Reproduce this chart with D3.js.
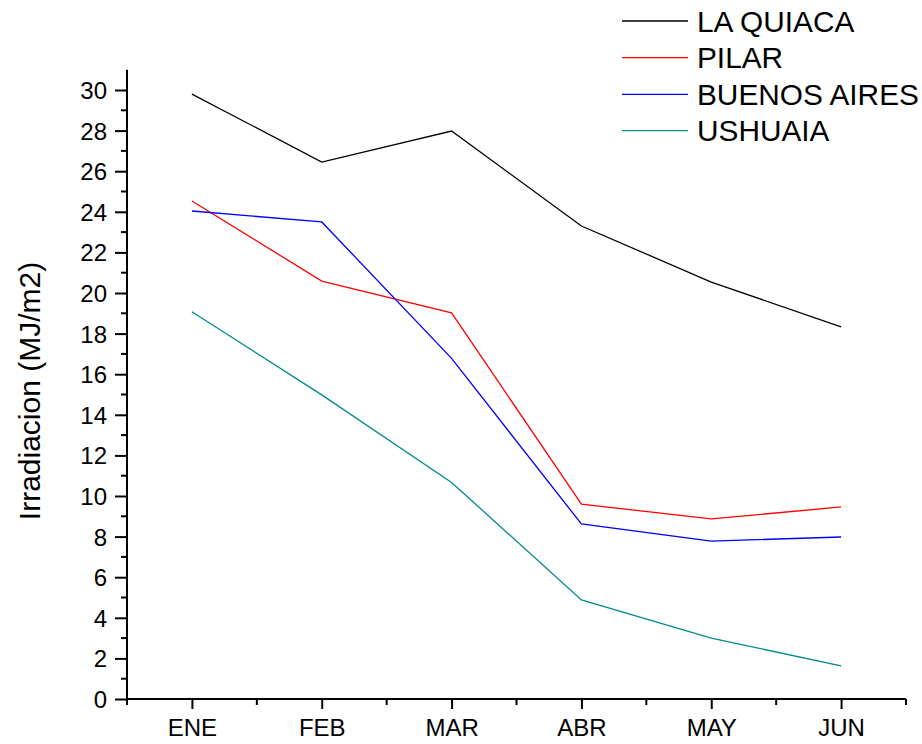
<!DOCTYPE html>
<html>
<head>
<meta charset="utf-8">
<script src="https://cdn.jsdelivr.net/npm/d3@7/dist/d3.min.js"></script>
<style>
html,body{margin:0;padding:0;background:#fff;}
svg{display:block;}
text{font-family:"Liberation Sans",Arial,sans-serif;fill:#000;}
</style>
</head>
<body>
<svg id="chart" width="922" height="744"></svg>
<script>
const months = ["ENE","FEB","MAR","ABR","MAY","JUN"];
const laQuiaca = [29.8, 26.45, 27.98, 23.3, 20.54, 18.33];
const pilar = [24.53, 20.59, 19.02, 9.6, 8.87, 9.46];
const buenosAires = [24.04, 23.5, 16.78, 8.62, 7.78, 7.98];
const ushuaia = [19.08, 14.98, 10.67, 4.88, 3.0, 1.63];
const seriesNames = ["LA QUIACA","PILAR","BUENOS AIRES","USHUAIA"];
const seriesColors = ["#000000","#ff0000","#0000ff","#008b8b"];
const yTicks = [0,2,4,6,8,10,12,14,16,18,20,22,24,26,28,30];

const svg = d3.select("#chart");
const x0 = 127, x1 = 906, yBottom = 699;
const x = d3.scaleLinear().domain([0.5, 6.5]).range([x0, x1]);
const y = d3.scaleLinear().domain([0, 30]).range([yBottom, 90]);
const yTop = y(31);

// Y axis
const yAxis = d3.axisLeft(y).tickValues(yTicks).tickSize(12).tickPadding(8).tickFormat(d3.format("d"));
const gy = svg.append("g").attr("transform", `translate(${x0},0)`).call(yAxis);
gy.select(".domain").remove();
gy.selectAll(".tick line").attr("stroke","#000").attr("stroke-width",2);
gy.selectAll(".tick text").style("font-size","24px").attr("dy","0.35em");
// minor y ticks
const yMinor = d3.range(1, 31, 2);
svg.append("g").selectAll("line").data(yMinor).join("line")
  .attr("x1", x0-6).attr("x2", x0).attr("y1", d=>y(d)).attr("y2", d=>y(d))
  .attr("stroke","#000").attr("stroke-width",2);
svg.append("line").attr("x1",x0).attr("x2",x0).attr("y1",yTop).attr("y2",yBottom+1)
  .attr("stroke","#000").attr("stroke-width",2);

// X axis
const xAxis = d3.axisBottom(x).tickValues(d3.range(1,7)).tickSize(10).tickPadding(10)
  .tickFormat(d => months[d-1]);
const gx = svg.append("g").attr("transform", `translate(0,${yBottom})`).call(xAxis);
gx.select(".domain").remove();
gx.selectAll(".tick line").attr("stroke","#000").attr("stroke-width",2);
gx.selectAll(".tick text").style("font-size","24px");
const xMinor = d3.range(0.5, 7, 1);
svg.append("g").selectAll("line").data(xMinor).join("line")
  .attr("x1", d=>x(d)).attr("x2", d=>x(d)).attr("y1", yBottom).attr("y2", yBottom+6)
  .attr("stroke","#000").attr("stroke-width",2);
svg.append("line").attr("x1",x0-1).attr("x2",x1).attr("y1",yBottom).attr("y2",yBottom)
  .attr("stroke","#000").attr("stroke-width",2);

// Lines
const allSeries = [laQuiaca, pilar, buenosAires, ushuaia];
const line = d3.line().x((d,i)=>x(i+1)).y(d=>y(d));
allSeries.forEach((s, k) => {
  svg.append("path").datum(s).attr("d", line)
    .attr("fill","none").attr("stroke", seriesColors[k]).attr("stroke-width",1.3);
});

// Y title
svg.append("text").attr("transform","translate(40,391) rotate(-90)")
  .attr("text-anchor","middle").style("font-size","30px").text("Irradiacion (MJ/m2)");

// Legend
const legY = [21, 57.7, 94.3, 130.7];
seriesNames.forEach((n, k) => {
  svg.append("line").attr("x1",622).attr("x2",688).attr("y1",legY[k]).attr("y2",legY[k])
    .attr("stroke", seriesColors[k]).attr("stroke-width",1.3);
  svg.append("text").attr("x",697).attr("y",legY[k]).attr("dy","0.36em")
    .style("font-size","29.8px").text(n);
});
</script>
</body>
</html>
